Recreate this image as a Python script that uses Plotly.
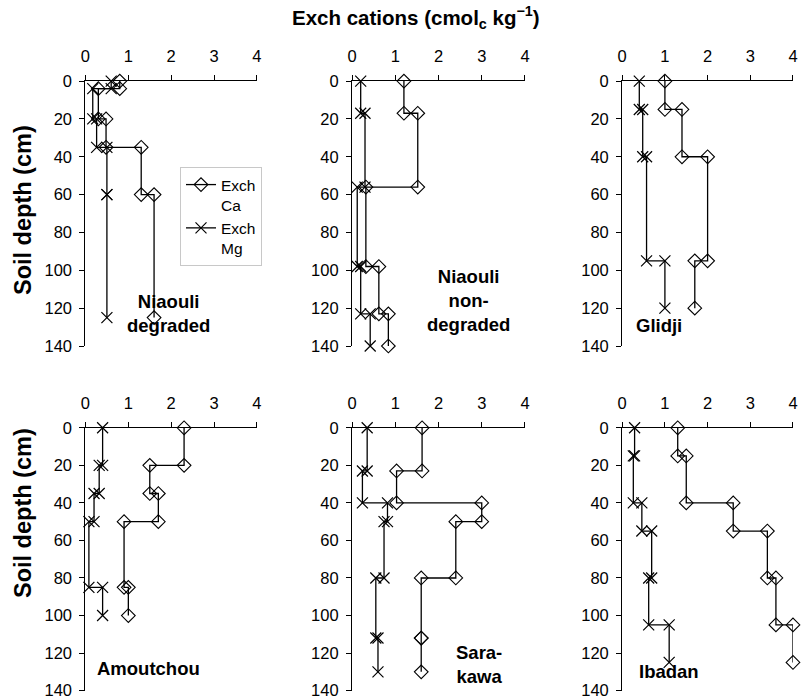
import plotly.graph_objects as go

# ---- data: horizon boundaries (cm) and exchangeable cations (cmolc/kg) ----
site_names = ["Niaouli<br>degraded", "Niaouli<br>non-<br>degraded", "Glidji",
              "Amoutchou", "Sara-<br>kawa", "Ibadan"]

depth_niaouli_deg = [0, 4, 20, 35, 60, 125]
ca_niaouli_deg = [0.8, 0.3, 0.48, 1.3, 1.6]
mg_niaouli_deg = [0.6, 0.17, 0.26, 0.5, 0.5]

depth_niaouli_nondeg = [0, 17, 56, 98, 123, 140]
ca_niaouli_nondeg = [1.2, 1.52, 0.32, 0.62, 0.84]
mg_niaouli_nondeg = [0.2, 0.3, 0.12, 0.2, 0.42]

depth_glidji = [0, 15, 40, 95, 120]
ca_glidji = [1.0, 1.4, 2.0, 1.7]
mg_glidji = [0.4, 0.48, 0.57, 1.0]

depth_amoutchou = [0, 20, 35, 50, 85, 100]
ca_amoutchou = [2.3, 1.5, 1.7, 0.9, 1.0]
mg_amoutchou = [0.4, 0.32, 0.2, 0.08, 0.4]

depth_sarakawa = [0, 23, 40, 50, 80, 112, 130]
ca_sarakawa = [1.62, 1.03, 3.0, 2.4, 1.6, 1.6]
mg_sarakawa = [0.35, 0.24, 0.82, 0.74, 0.55, 0.6]

depth_ibadan = [0, 15, 40, 55, 80, 105, 125]
ca_ibadan = [1.3, 1.5, 2.6, 3.4, 3.6, 4.0]
mg_ibadan = [0.29, 0.26, 0.46, 0.69, 0.62, 1.1]

profiles = [
    (depth_niaouli_deg, ca_niaouli_deg, mg_niaouli_deg),
    (depth_niaouli_nondeg, ca_niaouli_nondeg, mg_niaouli_nondeg),
    (depth_glidji, ca_glidji, mg_glidji),
    (depth_amoutchou, ca_amoutchou, mg_amoutchou),
    (depth_sarakawa, ca_sarakawa, mg_sarakawa),
    (depth_ibadan, ca_ibadan, mg_ibadan),
]
# label anchor positions in data units (x value, depth)
label_pos = [(1.93, 123), (2.7, 116), (0.85, 129), (1.47, 128), (2.94, 126), (1.1, 130)]

x_ticks = [0, 1, 2, 3, 4]
y_ticks = [0, 20, 40, 60, 80, 100, 120, 140]

FONT = "Arial, Liberation Sans, sans-serif"


def step_path(depths, vals):
    xs, ys = [], []
    for i, v in enumerate(vals):
        xs += [v, v]
        ys += [depths[i], depths[i + 1]]
    return xs, ys


fig = go.Figure()

col_dom = [[0.1067, 0.3208], [0.4395, 0.6554], [0.7768, 0.9900]]
row_dom = [[0.505, 0.884], [0.012, 0.388]]

for k, (dep, ca, mg) in enumerate(profiles):
    r, c = divmod(k, 3)
    xa = "x" if k == 0 else f"x{k+1}"
    ya = "y" if k == 0 else f"y{k+1}"
    cx, cy = step_path(dep, ca)
    mx, my = step_path(dep, mg)
    fig.add_trace(go.Scatter(
        x=cx, y=cy, xaxis=xa, yaxis=ya, mode="lines+markers",
        name="Exch<br>Ca", showlegend=(k == 0), cliponaxis=False,
        line=dict(color="black", width=1.3),
        marker=dict(symbol="diamond-open", size=10.5, color="black",
                    line=dict(width=1.1, color="black")),
    ))
    fig.add_trace(go.Scatter(
        x=mx, y=my, xaxis=xa, yaxis=ya, mode="lines+markers",
        name="Exch<br>Mg", showlegend=(k == 0), cliponaxis=False,
        line=dict(color="black", width=1.3),
        marker=dict(symbol="x-thin-open", size=11, color="black",
                    line=dict(width=1.2, color="black")),
    ))
    axx = dict(domain=col_dom[c], anchor=ya, side="top", range=[0, 4],
               tickvals=x_ticks, ticks="outside", ticklen=5, tickwidth=1.2,
               tickcolor="black", showline=True, linecolor="black", linewidth=1.3,
               showgrid=False, zeroline=False, automargin=False,
               ticklabelstandoff=6, ticklabeloverflow="allow",
               tickfont=dict(family=FONT, size=16.5, color="black"))
    axy = dict(domain=row_dom[r], anchor=xa, range=[140, 0],
               tickvals=y_ticks, ticks="outside", ticklen=5, tickwidth=1.2,
               tickcolor="black", showline=True, linecolor="black", linewidth=1.3,
               showgrid=False, zeroline=False, ticklabelstandoff=4, automargin=False,
               ticklabeloverflow="allow",
               tickfont=dict(family=FONT, size=16.5, color="black"))
    fig.layout["xaxis" if k == 0 else f"xaxis{k+1}"] = axx
    fig.layout["yaxis" if k == 0 else f"yaxis{k+1}"] = axy
    lx, ly = label_pos[k]
    fig.add_annotation(x=lx, y=ly, xref=xa, yref=ya, text=f"<b>{site_names[k]}</b>",
                       showarrow=False, font=dict(family=FONT, size=18.5, color="black"),
                       align="center", xanchor="center", yanchor="middle")

fig.add_annotation(x=0.519, y=1 - 17 / 699, xref="paper", yref="paper",
                   xanchor="center", yanchor="middle",
                   text="<b>Exch cations (cmol<sub>c</sub> kg<sup>−1</sup>)</b>",
                   showarrow=False, font=dict(family=FONT, size=20.5, color="black"))
for yc in [1 - 210 / 699, 1 - 513 / 699]:
    fig.add_annotation(x=23 / 801, y=yc, xref="paper", yref="paper",
                       xanchor="center", yanchor="middle",
                       text="<b>Soil depth (cm)</b>", textangle=-90,
                       showarrow=False, font=dict(family=FONT, size=23.5, color="black"))

fig.update_layout(
    width=801, height=699, margin=dict(l=0, r=0, t=0, b=0, autoexpand=False),
    paper_bgcolor="white", plot_bgcolor="white",
    showlegend=True,
    legend=dict(x=180 / 801, y=1 - 167 / 699, xanchor="left", yanchor="top",
                bgcolor="white", bordercolor="#c8c8c8", borderwidth=1,
                font=dict(family=FONT, size=15.5, color="black"),
                valign="top", tracegroupgap=0, itemwidth=30),
)

fig.write_html("out.html")
